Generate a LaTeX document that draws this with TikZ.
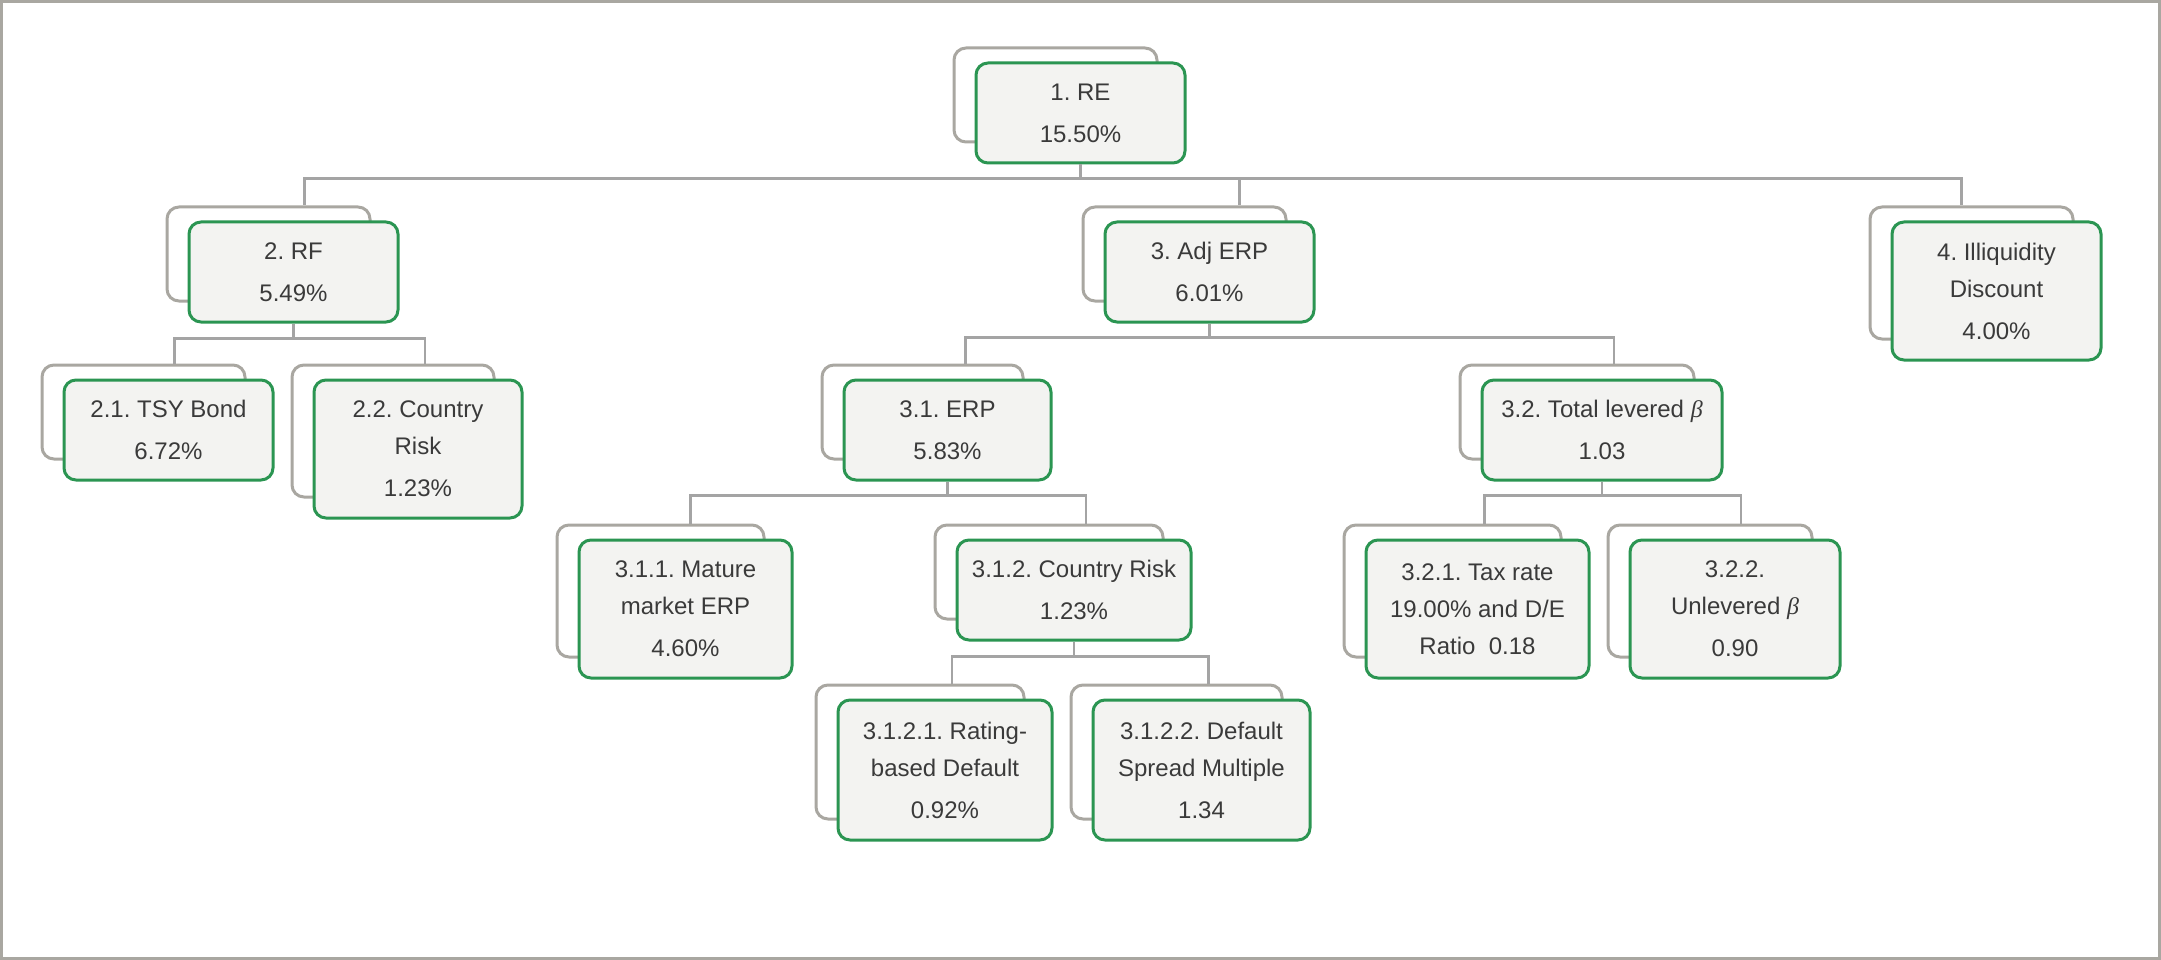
\documentclass[tikz,border=0pt]{standalone}
\usepackage{fontspec}
\setmainfont{Liberation Sans}
\newfontfamily\betafont{Liberation Serif}
\usepackage{tikz}
\usetikzlibrary{positioning}
\frenchspacing

\definecolor{boxgreen}{HTML}{2B9552}
\definecolor{boxfill}{HTML}{F3F3F1}
\definecolor{backgray}{HTML}{A9A7A1}
\definecolor{linkgray}{HTML}{A4A4A4}
\definecolor{textgray}{HTML}{3A3A3A}

\begin{document}
\begin{tikzpicture}
    [
    x=1pt, y=-1pt,
    box/.style={rectangle, rounded corners=12pt, inner sep=0pt, line width=3pt,
      align=center, minimum width=209pt, minimum height=100pt},
    tall/.style={minimum height=138pt},
    back/.style={box, draw=backgray, fill=white},
    front/.style={box, draw=boxgreen, fill=boxfill, text=textgray,
      font=\fontsize{24pt}{37pt}\selectfont},
    link/.style={draw=linkgray, line width=2.5pt},
    ]
    \useasboundingbox (0,0) rectangle (2161,960);
    \draw [draw=backgray, line width=3pt] (1.5,1.5) rectangle (2159.5,958.5);

    \node (re-b) at (1055.5,95) [back, minimum width=203pt, minimum height=94pt] {};
    \node (re) at ([shift={(25,18)}]re-b.center) [front] {1. RE\\[5pt]15.50\%};

    \node (rf-b) at (268.5,254) [back, minimum width=203pt, minimum height=94pt] {};
    \node (rf) at ([shift={(25,18)}]rf-b.center) [front] {2. RF\\[5pt]5.49\%};
    \node (adj-b) at (1184.5,254) [back, minimum width=203pt, minimum height=94pt] {};
    \node (adj) at ([shift={(25,18)}]adj-b.center) [front] {3. Adj ERP\\[5pt]6.01\%};
    \node (illiq-b) at (1971.5,273) [back, minimum width=203pt, minimum height=132pt] {};
    \node (illiq) at ([shift={(25,18)}]illiq-b.center) [front, tall] {4. Illiquidity\\Discount\\[5pt]4.00\%};

    \node (tsy-b) at (143.5,412) [back, minimum width=203pt, minimum height=94pt] {};
    \node (tsy) at ([shift={(25,18)}]tsy-b.center) [front] {2.1. TSY Bond\\[5pt]6.72\%};
    \node (crp-b) at (393,431) [back, minimum width=202pt, minimum height=132pt] {};
    \node (crp) at ([shift={(25,18)}]crp-b.center) [front, tall, minimum width=208pt] {2.2. Country\\Risk\\[5pt]1.23\%};

    \node (erp-b) at (922.5,412) [back, minimum width=201pt, minimum height=94pt] {};
    \node (erp) at ([shift={(25,18)}]erp-b.center) [front, minimum width=207pt] {3.1. ERP\\[5pt]5.83\%};
    \node (beta-b) at (1577,412) [back, minimum width=234pt, minimum height=94pt] {};
    \node (beta) at ([shift={(25,18)}]beta-b.center) [front, minimum width=240pt] {3.2. Total levered {\betafont\itshape β}\\[5pt]1.03};

    \node (mat-b) at (660.5,591) [back, minimum width=207pt, minimum height=132pt] {};
    \node (mat) at ([shift={(25,18)}]mat-b.center) [front, tall, minimum width=213pt] {3.1.1. Mature\\market ERP\\[5pt]4.60\%};
    \node (crs-b) at (1049,572) [back, minimum width=228pt, minimum height=94pt] {};
    \node (crs) at ([shift={(25,18)}]crs-b.center) [front, minimum width=234pt] {3.1.2. Country Risk\\[5pt]1.23\%};

    \node (tax-b) at (1452.5,591) [back, minimum width=217pt, minimum height=132pt] {};
    \node (tax) at ([shift={(25,18)}]tax-b.center) [front, tall, minimum width=223pt] {3.2.1. Tax rate\\19.00\% and D/E\\Ratio~~0.18};
    \node (unl-b) at (1710,591) [back, minimum width=204pt, minimum height=132pt] {};
    \node (unl) at ([shift={(25,18)}]unl-b.center) [front, tall, minimum width=210pt] {3.2.2.\\Unlevered {\betafont\itshape β}\\[5pt]0.90};

    \node (rat-b) at (920,752) [back, minimum width=208pt, minimum height=134pt] {};
    \node (rat) at ([shift={(25,18)}]rat-b.center) [front, tall, minimum width=214pt, minimum height=140pt] {3.1.2.1. Rating-\\based Default\\[5pt]0.92\%};
    \node (spr-b) at (1176.5,752) [back, minimum width=211pt, minimum height=134pt] {};
    \node (spr) at ([shift={(25,18)}]spr-b.center) [front, tall, minimum width=217pt, minimum height=140pt] {3.1.2.2. Default\\Spread Multiple\\[5pt]1.34};

    \draw [link] (re.south) -- ++(0,14) -| ([xshift=36pt]rf-b.north);
    \draw [link] (re.south) -- ++(0,14) -| ([xshift=55pt]adj-b.north);
    \draw [link] (re.south) -- ++(0,14) -| ([xshift=-10pt]illiq-b.north);
    \draw [link] (rf.south) -- ++(0,15) -| ([xshift=31pt]tsy-b.north);
    \draw [link] (rf.south) -- ++(0,15) -| ([xshift=32pt]crp-b.north);
    \draw [link] (adj.south) -- ++(0,14) -| ([xshift=43pt]erp-b.north);
    \draw [link] (adj.south) -- ++(0,14) -| ([xshift=37pt]beta-b.north);
    \draw [link] (erp.south) -- ++(0,14) -| ([xshift=30pt]mat-b.north);
    \draw [link] (erp.south) -- ++(0,14) -| ([xshift=37pt]crs-b.north);
    \draw [link] (beta.south) -- ++(0,14) -| ([xshift=32pt]tax-b.north);
    \draw [link] (beta.south) -- ++(0,14) -| ([xshift=31pt]unl-b.north);
    \draw [link] (crs.south) -- ++(0,15) -| ([xshift=32pt]rat-b.north);
    \draw [link] (crs.south) -- ++(0,15) -| ([xshift=32pt]spr-b.north);
  \end{tikzpicture}
\end{document}
